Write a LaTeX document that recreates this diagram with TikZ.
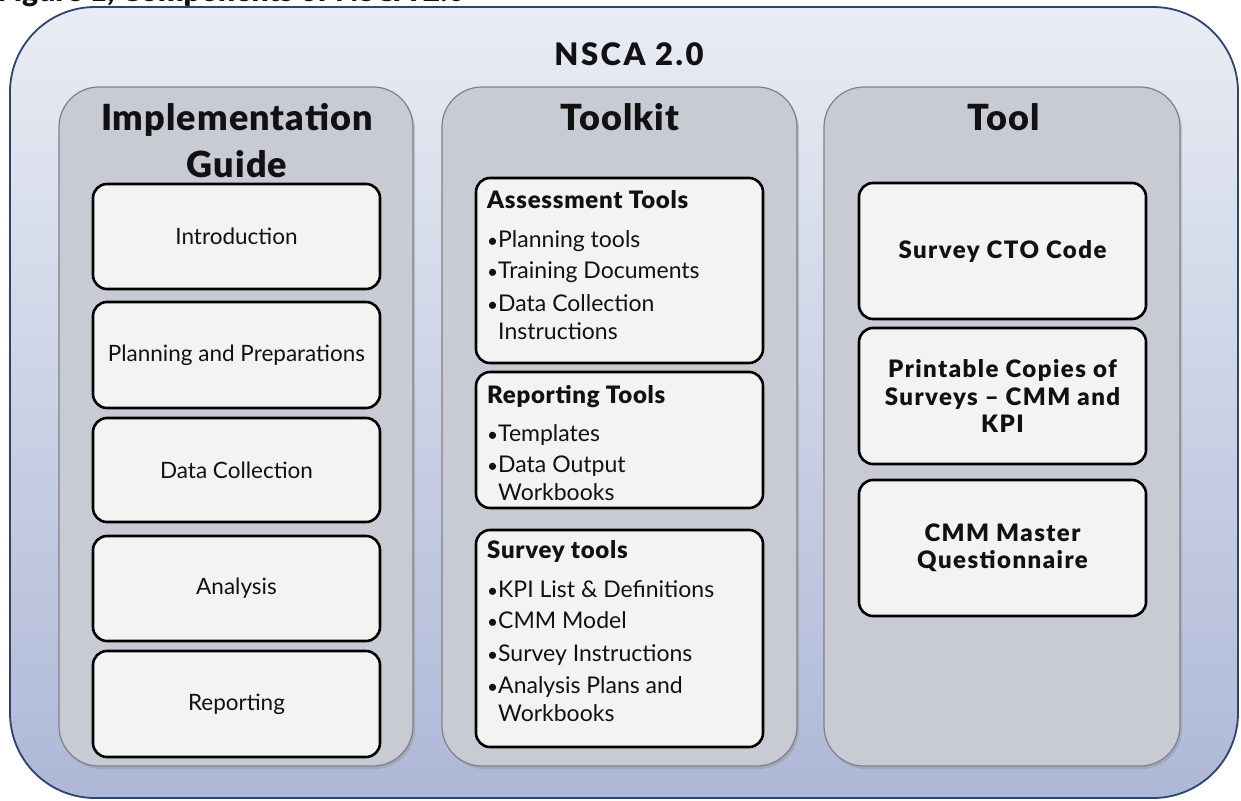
\documentclass[tikz,border=0pt]{standalone}
\usepackage{fontspec}
\setmainfont{Lato}
\newfontface\heavy{Lato Black}
\usetikzlibrary{shadows}
\definecolor{outerTop}{HTML}{E9ECF4}
\definecolor{outerBot}{HTML}{AEB8D7}
\definecolor{outerLine}{HTML}{2B4470}
\definecolor{panelFill}{HTML}{C8CBD3}
\definecolor{panelLine}{HTML}{7E8187}
\definecolor{boxFill}{HTML}{F3F3F3}
\definecolor{ink}{HTML}{111111}
\tikzset{
  outerbox/.style={rectangle, rounded corners=85pt, draw=outerLine, line width=1.8pt,
    top color=outerTop, bottom color=outerBot, inner sep=0pt, outer sep=0pt},
  panel/.style={rectangle, rounded corners=40pt, draw=panelLine, line width=1.2pt,
    fill=panelFill, inner sep=0pt, outer sep=0pt,
    drop shadow={shadow xshift=2pt, shadow yshift=-3pt, opacity=0.3}},
  itembox/.style={rectangle, rounded corners=14pt, draw=black, line width=2.6pt,
    fill=boxFill, inner sep=0pt, outer sep=0pt, minimum width=287pt},
  ttl/.style={text=ink, font=\heavy\fontsize{36}{47}\selectfont\addfontfeatures{LetterSpace=3}, align=center, inner sep=0pt},
  lefttxt/.style={text=ink, font=\fontsize{22.5}{27}\selectfont, align=center, inner sep=0pt},
  righttxt/.style={text=ink, font=\heavy\fontsize{24}{27.5}\selectfont\addfontfeatures{LetterSpace=6}, align=center, inner sep=0pt},
  midhead/.style={text=ink, font=\heavy\fontsize{24}{26}\selectfont\addfontfeatures{LetterSpace=3}, anchor=base west, inner sep=0pt},
  midline/.style={text=ink, font=\fontsize{23}{26}\selectfont, anchor=base west, inner sep=0pt},
}
\newcommand{\bul}{{\fontsize{19}{19}\selectfont\textbullet}}
\begin{document}
\begin{tikzpicture}[x=1pt,y=-1pt]
\useasboundingbox (0,0) rectangle (1241,800);
\fill[white] (0,0) rectangle (1241,800);
% caption fragment cut by the top edge
\node[anchor=base west, inner sep=0pt, text=ink, font=\heavy\fontsize{30}{30}\selectfont] (cap) at (-3,1.5) {Figure 1, Components of NSCA 2.0};
% outer container
\node[outerbox, minimum width=1228pt, minimum height=791pt] (nsca) at (624,402.5) {};
\node[text=ink, font=\heavy\fontsize{31}{34}\selectfont\addfontfeatures{LetterSpace=8}, inner sep=0pt] (nscat) at (629,54) {NSCA 2.0};
% panels
\node[panel, minimum width=354pt, minimum height=679pt] (pl) at (236,426.5) {};
\node[panel, minimum width=355pt, minimum height=679pt] (pm) at (619.5,426.5) {};
\node[panel, minimum width=356pt, minimum height=679pt] (pr) at (1002,426.5) {};
\node[ttl] (tl) at (237,141) {Implementation\\Guide};
\node[ttl] (tm) at (620,117) {Toolkit};
\node[ttl] (tr) at (1004,117) {Tool};
% left boxes
\node[itembox, minimum height=105pt] (b1) at (236.5,236.5) {};
\node[itembox, minimum height=106pt] (b2) at (236.5,355) {};
\node[itembox, minimum height=104pt] (b3) at (236.5,470) {};
\node[itembox, minimum height=105pt] (b4) at (236.5,588.5) {};
\node[itembox, minimum height=106pt] (b5) at (236.5,704) {};
\node[lefttxt] at (b1) {Introduction};
\node[lefttxt] at (b2) {Planning and Preparations};
\node[lefttxt] at (b3) {Data Collection};
\node[lefttxt] at (b4) {Analysis};
\node[lefttxt] at (b5) {Reporting};
% middle boxes
\node[itembox, minimum height=185pt] (m1) at (619.5,270.5) {};
\node[itembox, minimum height=136pt] (m2) at (619.5,440) {};
\node[itembox, minimum height=217pt] (m3) at (619.5,638.5) {};
\node[midhead] (m1h) at (487,208) {Assessment Tools};
\node[midline] (m1a) at (487,247) {\bul Planning tools};
\node[midline] (m1b) at (487,278) {\bul Training Documents};
\node[midline] (m1c) at (487,311) {\bul Data Collection};
\node[midline] (m1d) at (487,339) {\phantom{\bul}Instructions};
\node[midhead] (m2h) at (487,403) {Reporting Tools};
\node[midline] (m2a) at (487,441) {\bul Templates};
\node[midline] (m2b) at (487,472) {\bul Data Output};
\node[midline] (m2c) at (487,500) {\phantom{\bul}Workbooks};
\node[midhead] (m3h) at (487,558) {Survey tools};
\node[midline] (m3a) at (487,597) {\bul KPI List \& Definitions};
\node[midline] (m3b) at (487,628) {\bul CMM Model};
\node[midline] (m3c) at (487,661) {\bul Survey Instructions};
\node[midline] (m3d) at (487,693) {\bul Analysis Plans and};
\node[midline] (m3e) at (487,721) {\phantom{\bul}Workbooks};
% right boxes
\node[itembox, minimum height=136pt] (r1) at (1002.5,251) {};
\node[itembox, minimum height=136pt] (r2) at (1002.5,396) {};
\node[itembox, minimum height=136pt] (r3) at (1002.5,548) {};
\node[righttxt] at (r1) {Survey CTO Code};
\node[righttxt] at (r2) {Printable Copies of\\Surveys – CMM and\\KPI};
\node[righttxt] at (r3) {CMM Master\\Questionnaire};
\end{tikzpicture}
\end{document}
